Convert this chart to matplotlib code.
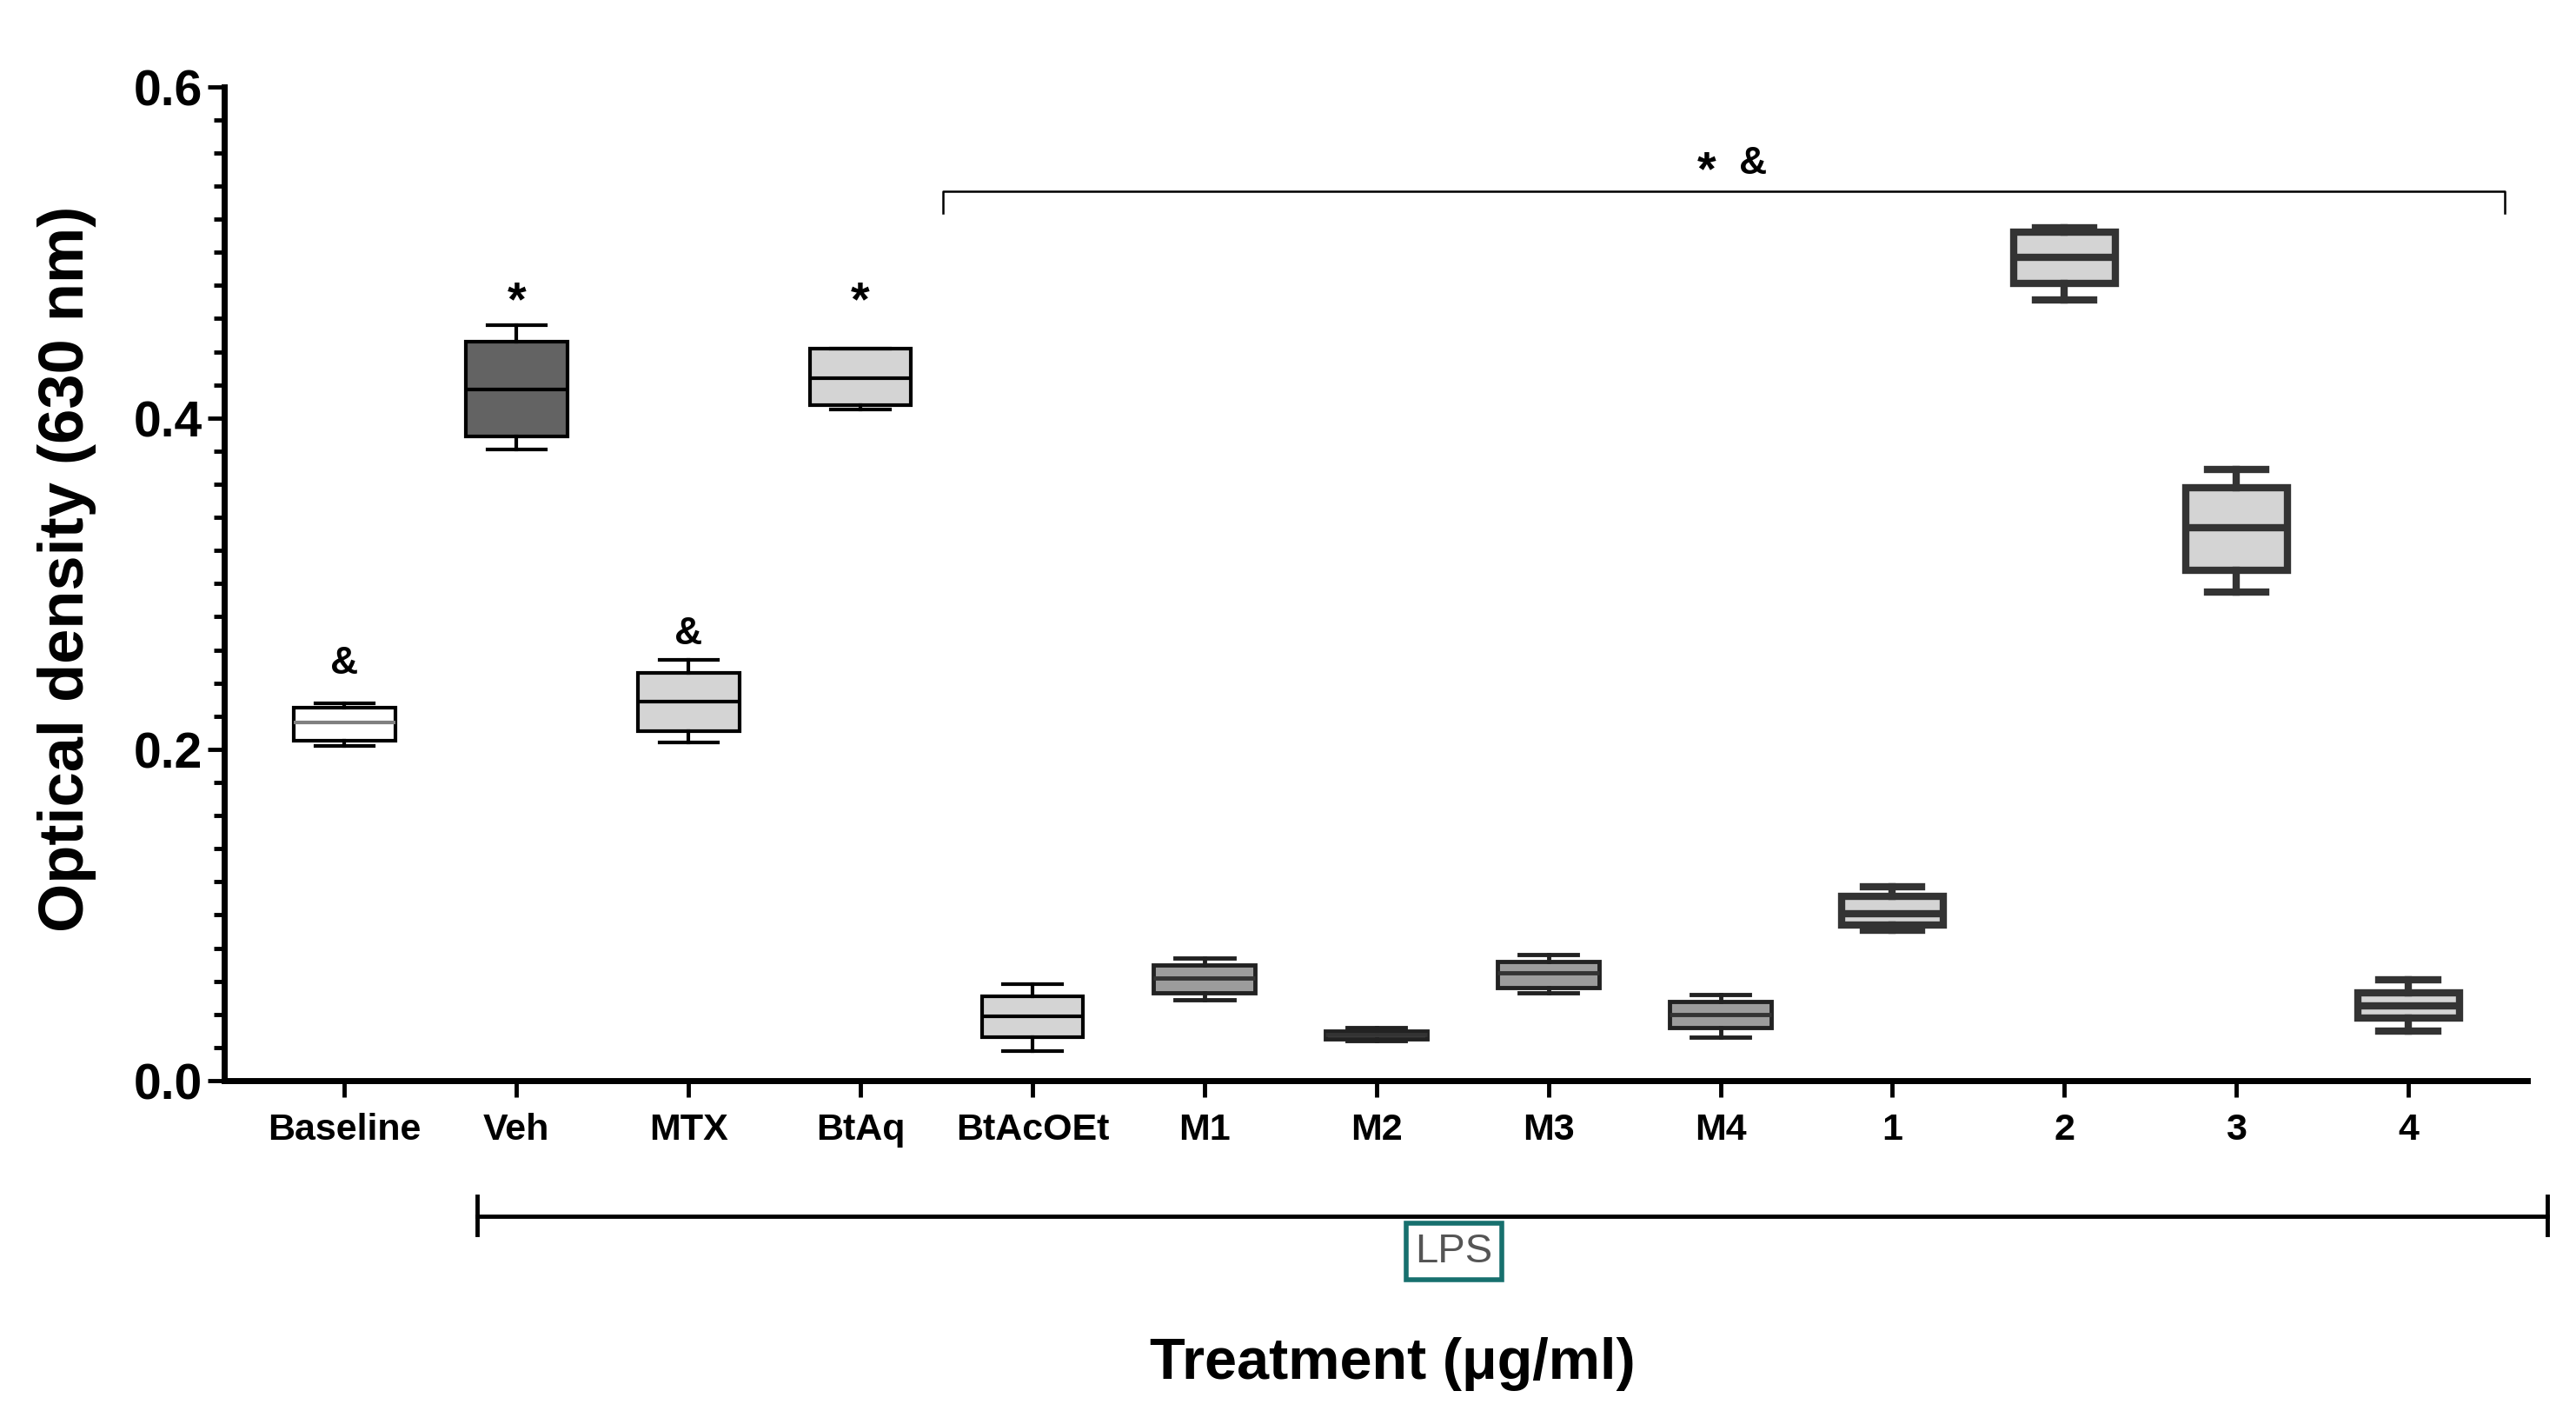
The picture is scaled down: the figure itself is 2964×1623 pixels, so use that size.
import matplotlib
matplotlib.use("Agg")
import matplotlib.pyplot as plt
import matplotlib.transforms as mtransforms
from matplotlib.ticker import MultipleLocator

plt.rcParams['font.family'] = ['Liberation Sans', 'DejaVu Sans']

# data (optical density, 630 nm)
labels = ["Baseline", "Veh", "MTX", "BtAq", "BtAcOEt", "M1", "M2", "M3", "M4", "1", "2", "3", "4"]
whis_lo = [0.202, 0.381, 0.204, 0.405, 0.018, 0.049, 0.024, 0.053, 0.026, 0.091, 0.471, 0.295, 0.030]
q1 = [0.205, 0.389, 0.211, 0.408, 0.026, 0.053, 0.025, 0.056, 0.032, 0.094, 0.481, 0.308, 0.038]
med = [0.216, 0.417, 0.229, 0.424, 0.039, 0.062, 0.028, 0.065, 0.040, 0.101, 0.497, 0.334, 0.045]
q3 = [0.225, 0.446, 0.246, 0.442, 0.051, 0.070, 0.030, 0.072, 0.048, 0.111, 0.512, 0.358, 0.053]
whis_hi = [0.228, 0.456, 0.254, 0.442, 0.058, 0.074, 0.032, 0.076, 0.052, 0.117, 0.515, 0.369, 0.061]

# significance marks above single boxes
marks = {0: "&", 1: "*", 2: "&", 3: "*"}
mark_y = {0: 0.252, 1: 0.470, 2: 0.270, 3: 0.470}

# styles per group
face = ["white", "#636363", "#d4d4d4", "#d4d4d4", "#d4d4d4",
        "#9c9c9c", "#9c9c9c", "#9c9c9c", "#9c9c9c",
        "#d4d4d4", "#d4d4d4", "#d4d4d4", "#d4d4d4"]
edge = ["black"] * 5 + ["#222222"] * 4 + ["#333333"] * 4
med_col = ["#808080", "black", "black", "black", "black"] + ["#333333"] * 8
lws = [3] * 5 + [3.5] * 4 + [6] * 4

fig = plt.figure(figsize=(29.64, 16.24), dpi=100)
ax = fig.add_axes([0.087, 0.234, 0.894, 0.704])

for i in range(len(labels)):
    st = dict(whislo=whis_lo[i], q1=q1[i], med=med[i], q3=q3[i], whishi=whis_hi[i], fliers=[])
    lw = lws[i]
    ax.bxp([st], positions=[i], widths=0.59, capwidths=0.34, patch_artist=True, showfliers=False,
           boxprops=dict(facecolor=face[i], edgecolor=edge[i], linewidth=lw),
           medianprops=dict(color=med_col[i], linewidth=lw),
           whiskerprops=dict(color=edge[i], linewidth=lw),
           capprops=dict(color=edge[i], linewidth=lw))

for i, m in marks.items():
    fs = 40 if m == "*" else 32
    ax.text(i, mark_y[i], m, ha='center', va='center', fontsize=fs, fontweight='bold')

# bracket over the LPS-treated extracts
ax.plot([3.48, 3.48, 12.56, 12.56], [0.524, 0.537, 0.537, 0.524], color='black', lw=1.8, clip_on=False)
ax.text(7.92, 0.549, "*", ha='center', va='center', fontsize=40, fontweight='bold')
ax.text(8.19, 0.554, "&", ha='center', va='center', fontsize=32, fontweight='bold')

ax.set_xlim(-0.70, 12.69)
ax.set_ylim(0, 0.6)
ax.spines['top'].set_visible(False)
ax.spines['right'].set_visible(False)
ax.spines['left'].set_linewidth(5)
ax.spines['bottom'].set_linewidth(5)

ax.set_xticks(range(len(labels)))
ax.set_xticklabels(labels, fontsize=31, fontweight='bold')
ax.set_yticks([0, 0.2, 0.4, 0.6])
ax.set_yticklabels(["0.0", "0.2", "0.4", "0.6"], fontsize=41, fontweight='bold')
ax.yaxis.set_minor_locator(MultipleLocator(0.02))
ax.tick_params(axis='y', which='major', length=14, width=3.5, pad=4)
ax.tick_params(axis='y', which='minor', length=9, width=3.5)
ax.tick_params(axis='x', which='major', length=14, width=3.5, pad=12)

# LPS bracket under the axis
trans = mtransforms.blended_transform_factory(ax.transData, fig.transFigure)
ax.plot([0.77, 12.81], [0.138, 0.138], color='black', lw=3.5, transform=trans, clip_on=False)
ax.plot([0.77, 0.77], [0.125, 0.152], color='black', lw=3.5, transform=trans, clip_on=False)
ax.plot([12.81, 12.81], [0.125, 0.152], color='black', lw=3.5, transform=trans, clip_on=False)
ax.text(6.45, 0.113, "LPS", ha='center', va='center', fontsize=34, color='#555555',
        family=['Liberation Sans Narrow', 'Liberation Sans'], transform=trans,
        bbox=dict(boxstyle='square,pad=0.22', fc='white', ec='#17706e', lw=4))

fig.text(0.5405, 0.034, "Treatment (\u03bcg/ml)", ha='center', va='center', fontsize=48, fontweight='bold')
fig.text(0.026, 0.597, "Optical density (630 nm)", ha='center', va='center', rotation=90,
         fontsize=52, fontweight='bold')

fig.savefig("out.png", dpi=100, facecolor='white')
